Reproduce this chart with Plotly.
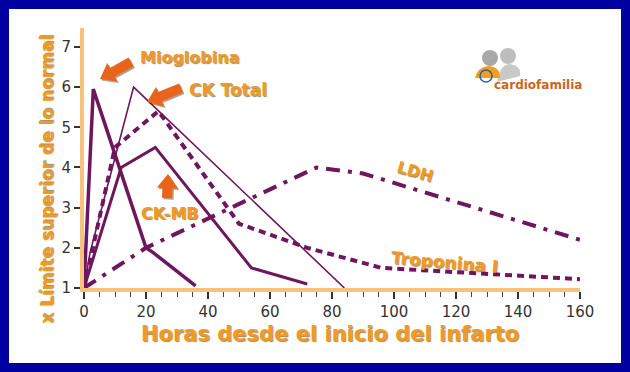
import math
import plotly.graph_objects as go

# ---- data (hours since infarct onset, x upper reference limit) ----
mio_h = [0, 3, 20, 22, 36]
mio_v = [1, 5.95, 2.0, 1.9, 1.05]

ckmb_h = [0, 12, 23, 54, 72]
ckmb_v = [1, 4.0, 4.5, 1.5, 1.1]

cktot_h = [0, 2, 16, 84]
cktot_v = [1, 1.9, 6.0, 1.0]

trop_h = [0, 10, 24, 50, 72, 96, 160]
trop_v = [1, 4.5, 5.4, 2.6, 2.0, 1.5, 1.22]

ldh_h = [0, 20, 75, 90, 160]
ldh_v = [1, 2.0, 4.0, 3.85, 2.2]

x_ticks = [0, 20, 40, 60, 80, 100, 120, 140, 160]
x_minor = list(range(0, 161, 5))
y_ticks = [1, 2, 3, 4, 5, 6, 7]

PURPLE = "#6E165E"
ORANGE = "#F29A1F"
AXIS_OR = "#F6C27C"
ARROW = "#E8641B"
NAVY = "#0000A0"
SHADOW = "1px 1px 1px rgba(60,40,0,0.55)"

fig = go.Figure()
fig.add_trace(go.Scatter(x=ldh_h, y=ldh_v, mode="lines",
                         line=dict(color=PURPLE, width=4, dash="14px,8px,4px,8px")))
fig.add_trace(go.Scatter(x=trop_h, y=trop_v, mode="lines",
                         line=dict(color=PURPLE, width=4, dash="7px,5px")))
fig.add_trace(go.Scatter(x=cktot_h, y=cktot_v, mode="lines",
                         line=dict(color=PURPLE, width=1.6)))
fig.add_trace(go.Scatter(x=ckmb_h, y=ckmb_v, mode="lines",
                         line=dict(color=PURPLE, width=3)))
fig.add_trace(go.Scatter(x=mio_h, y=mio_v, mode="lines",
                         line=dict(color=PURPLE, width=3.5)))

# plot area in pixels: x 84..580, y 28..288
L, R, T, B = 84, 50, 28, 84
W, H = 630 - L - R, 372 - T - B


def px(x):
    return (x - L) / W


def py(y):
    return (372 - B - y) / H


def navy_rect(x0, y0, x1, y1):
    return dict(type="rect", xref="paper", yref="paper", layer="below",
                x0=px(x0), x1=px(x1), y0=py(y1), y1=py(y0),
                fillcolor=NAVY, line=dict(width=0))


# navy frame around the white card
shapes = [
    navy_rect(0, 0, 630, 9),
    navy_rect(0, 363, 630, 372),
    navy_rect(0, 0, 9, 372),
    navy_rect(621, 0, 630, 372),
]
# logo: two gray figures
shapes += [
    dict(type="circle", xref="paper", yref="paper", x0=px(482), x1=px(498), y0=py(66), y1=py(50),
         fillcolor="#A8A8A8", line=dict(width=0)),
    dict(type="circle", xref="paper", yref="paper", x0=px(500), x1=px(516), y0=py(64), y1=py(48),
         fillcolor="#BDBDBD", line=dict(width=0)),
    dict(type="path", xref="paper", yref="paper",
         path=f"M {px(497)} {py(82)} Q {px(500)} {py(64)} {px(510)} {py(64)} Q {px(522)} {py(66)} {px(520)} {py(76)} Z",
         fillcolor="#C8C8C8", line=dict(width=0)),
    dict(type="path", xref="paper", yref="paper",
         path=f"M {px(475)} {py(78)} Q {px(478)} {py(66)} {px(490)} {py(66)} Q {px(500)} {py(67)} {px(500)} {py(78)} Z",
         fillcolor="#F0A020", line=dict(width=0)),
    dict(type="circle", xref="paper", yref="paper", x0=px(480), x1=px(492), y0=py(82), y1=py(70),
         fillcolor="rgba(0,0,0,0)", line=dict(color="#3060A0", width=1.5)),
]


def block_arrow(tip, tail, shaft=10, head=21, head_len=14, color=ARROW, dx=0, dy=0):
    tx, ty = tip[0] + dx, tip[1] + dy
    sx, sy = tail[0] + dx, tail[1] + dy
    length = math.hypot(tx - sx, ty - sy)
    ux, uy = (tx - sx) / length, (ty - sy) / length
    nx, ny = -uy, ux
    bx, by = tx - ux * head_len, ty - uy * head_len
    pts = [
        (sx + nx * shaft / 2, sy + ny * shaft / 2),
        (bx + nx * shaft / 2, by + ny * shaft / 2),
        (bx + nx * head / 2, by + ny * head / 2),
        (tx, ty),
        (bx - nx * head / 2, by - ny * head / 2),
        (bx - nx * shaft / 2, by - ny * shaft / 2),
        (sx - nx * shaft / 2, sy - ny * shaft / 2),
    ]
    path = "M " + " L ".join(f"{px(a):.5f} {py(b):.5f}" for a, b in pts) + " Z"
    return dict(type="path", xref="paper", yref="paper", path=path,
                fillcolor=color, line=dict(width=0))


for tip, tail in [((100, 79), (131, 62)), ((147, 102), (181, 88)), ((168, 174), (167, 198))]:
    shapes.append(block_arrow(tip, tail, color="rgba(90,40,10,0.45)", dx=1.5, dy=1.5))
    shapes.append(block_arrow(tip, tail))

annotations = []


def label(text, x, y, size=16, angle=0):
    annotations.append(dict(text=f"<b>{text}</b>", xref="paper", yref="paper",
                            x=px(x), y=py(y), showarrow=False, textangle=angle,
                            xanchor="center", yanchor="middle",
                            font=dict(family="DejaVu Sans", size=size, color=ORANGE, shadow=SHADOW)))


label("Mioglobina", 189, 57)
label("CK Total", 228, 90, 17)
label("CK-MB", 170, 213)
label("LDH", 415, 171, 16, 16)
label("Troponina I", 444, 262, 17, 5)
label("Horas desde el inicio del infarto", 330, 334, 21)
label("x Límite superior de lo normal", 47, 180, 17, -90)

annotations.append(dict(text="<b>cardiofamilia</b>", xref="paper", yref="paper",
                        x=px(538), y=py(85), showarrow=False, xanchor="center", yanchor="middle",
                        font=dict(family="DejaVu Sans", size=12, color="#C8661E")))

fig.update_layout(
    width=630, height=372,
    margin=dict(l=L, r=R, t=T, b=B),
    paper_bgcolor="white", plot_bgcolor="white",
    showlegend=False,
    shapes=shapes, annotations=annotations,
    xaxis=dict(range=[0, 160], tickvals=x_ticks, ticks="outside", ticklen=7, tickwidth=1.5,
               tickcolor="#333",
               showgrid=False, zeroline=False, showline=True, linecolor=AXIS_OR, linewidth=4,
               tickfont=dict(family="DejaVu Sans", size=15, color="#333"),
               minor=dict(tickvals=x_minor, ticks="outside", ticklen=5, tickwidth=1.2,
                          tickcolor="#444")),
    yaxis=dict(range=[1, 7.47], tickvals=y_ticks, ticks="outside", ticklen=6, tickwidth=1.5,
               tickcolor="#333",
               showgrid=False, zeroline=False, showline=True, linecolor=AXIS_OR, linewidth=4,
               tickfont=dict(family="DejaVu Sans", size=15, color="#333")),
)

fig.write_html(
    "out.html",
    config={"displayModeBar": False},
    post_script="document.body.style.margin='0';document.body.style.background='#0000A0';",
)
